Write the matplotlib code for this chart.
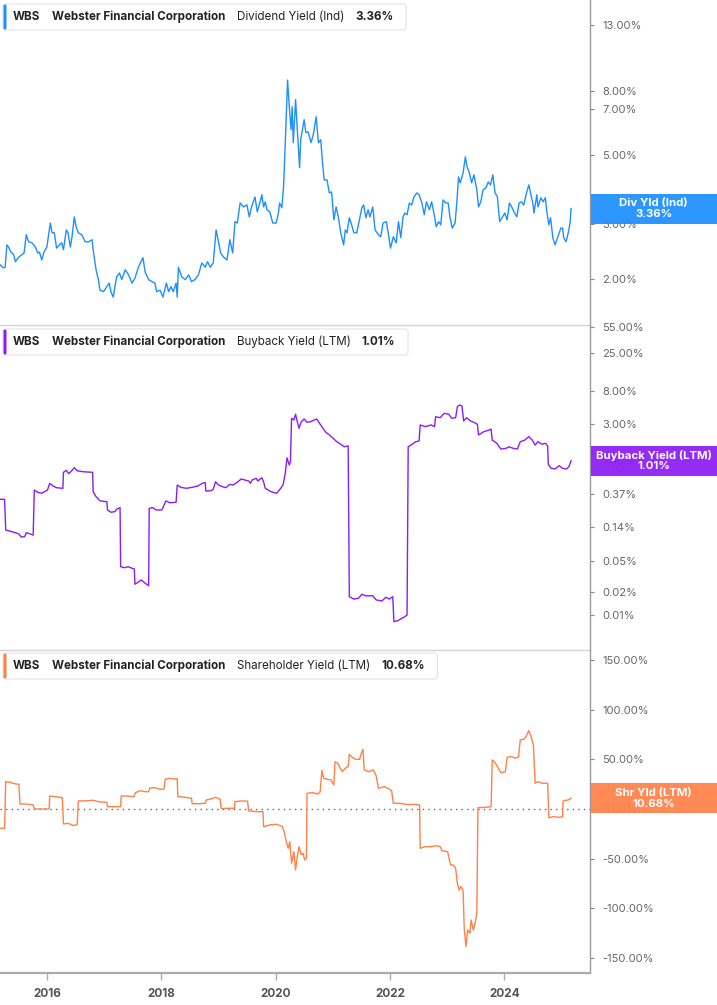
import matplotlib.pyplot as plt
from matplotlib.patches import FancyBboxPatch, Rectangle
from matplotlib.ticker import NullLocator
from matplotlib.transforms import IdentityTransform

plt.rcParams["font.family"] = ["Inter", "DejaVu Sans"]

# ---- data (decimal year, %) ----
div_pts = [
    (2015.18, 2.22), (2015.24, 2.17), (2015.27, 2.18), (2015.30, 2.57), (2015.33, 2.53), (2015.37, 2.44),
    (2015.42, 2.39), (2015.45, 2.27), (2015.50, 2.34), (2015.56, 2.39), (2015.60, 2.42), (2015.64, 2.77),
    (2015.68, 2.63), (2015.74, 2.61), (2015.80, 2.53), (2015.84, 2.42), (2015.87, 2.44), (2015.91, 2.30),
    (2015.95, 2.44), (2016.00, 2.53), (2016.03, 2.77), (2016.06, 3.02), (2016.09, 2.81), (2016.13, 2.81),
    (2016.17, 2.51), (2016.22, 2.57), (2016.26, 2.61), (2016.29, 2.48), (2016.34, 2.87), (2016.37, 2.81),
    (2016.41, 2.53), (2016.44, 2.73), (2016.48, 3.16), (2016.51, 2.94), (2016.55, 2.81), (2016.61, 2.77),
    (2016.67, 2.63), (2016.73, 2.63), (2016.79, 2.67), (2016.81, 2.48), (2016.86, 2.14), (2016.90, 1.99),
    (2016.93, 1.84), (2016.99, 1.82), (2017.05, 1.89), (2017.09, 1.94), (2017.12, 1.82), (2017.16, 1.75),
    (2017.22, 2.03), (2017.27, 2.09), (2017.31, 1.99), (2017.37, 2.14), (2017.43, 2.06), (2017.49, 1.94),
    (2017.54, 2.01), (2017.60, 2.18), (2017.68, 2.34), (2017.72, 2.10), (2017.78, 1.99), (2017.84, 1.96),
    (2017.89, 1.94), (2017.92, 1.82), (2017.98, 1.84), (2018.03, 1.75), (2018.09, 1.94), (2018.13, 1.82),
    (2018.17, 1.89), (2018.21, 1.82), (2018.26, 1.94), (2018.28, 1.75), (2018.30, 2.18), (2018.36, 2.03),
    (2018.42, 1.99), (2018.48, 2.06), (2018.53, 1.96), (2018.59, 1.99), (2018.65, 2.06), (2018.71, 2.25),
    (2018.77, 2.18), (2018.81, 2.27), (2018.86, 2.18), (2018.91, 2.25), (2018.96, 2.87), (2019.00, 2.63),
    (2019.04, 2.42), (2019.09, 2.35), (2019.15, 2.30), (2019.20, 2.67), (2019.25, 2.42), (2019.29, 3.05),
    (2019.33, 3.02), (2019.38, 3.50), (2019.44, 3.40), (2019.50, 3.45), (2019.54, 3.16), (2019.58, 3.40),
    (2019.64, 3.66), (2019.68, 3.28), (2019.73, 3.53), (2019.76, 3.72), (2019.79, 3.40), (2019.82, 3.53),
    (2019.85, 3.33), (2019.90, 3.28), (2019.95, 3.02), (2020.01, 3.02), (2020.05, 3.25), (2020.07, 3.50),
    (2020.11, 3.38), (2020.14, 3.94), (2020.17, 5.46), (2020.21, 8.66), (2020.24, 7.12), (2020.27, 6.01),
    (2020.29, 7.12), (2020.31, 5.46), (2020.35, 7.50), (2020.38, 6.01), (2020.42, 4.54), (2020.44, 5.58),
    (2020.48, 6.14), (2020.50, 6.47), (2020.53, 5.88), (2020.57, 5.91), (2020.62, 5.46), (2020.66, 5.79),
    (2020.71, 6.61), (2020.75, 5.46), (2020.79, 5.58), (2020.82, 4.74), (2020.85, 4.15), (2020.90, 4.15),
    (2020.94, 3.77), (2020.98, 3.80), (2021.02, 3.09), (2021.06, 3.40), (2021.10, 3.14), (2021.14, 2.81),
    (2021.19, 2.57), (2021.22, 2.87), (2021.25, 2.81), (2021.29, 3.14), (2021.33, 2.98), (2021.37, 2.81),
    (2021.42, 2.81), (2021.46, 3.05), (2021.51, 3.38), (2021.54, 3.45), (2021.58, 3.14), (2021.62, 3.33),
    (2021.65, 3.16), (2021.70, 3.40), (2021.74, 2.87), (2021.80, 2.77), (2021.84, 2.73), (2021.88, 3.02),
    (2021.94, 3.05), (2021.97, 2.81), (2022.01, 2.51), (2022.06, 2.73), (2022.11, 2.61), (2022.15, 3.05),
    (2022.19, 2.71), (2022.23, 3.16), (2022.26, 3.25), (2022.30, 3.21), (2022.34, 3.50), (2022.38, 3.45),
    (2022.42, 3.66), (2022.47, 3.77), (2022.51, 3.72), (2022.56, 3.50), (2022.60, 3.21), (2022.64, 3.53),
    (2022.69, 3.33), (2022.73, 3.53), (2022.77, 3.25), (2022.81, 2.94), (2022.85, 3.05), (2022.89, 2.98),
    (2022.93, 3.58), (2022.98, 3.50), (2023.02, 3.50), (2023.05, 3.16), (2023.09, 2.91), (2023.14, 3.02),
    (2023.17, 3.50), (2023.20, 4.24), (2023.23, 4.06), (2023.26, 4.24), (2023.28, 4.37), (2023.32, 4.92),
    (2023.35, 4.57), (2023.39, 4.37), (2023.43, 4.06), (2023.47, 4.31), (2023.52, 3.86), (2023.55, 3.40),
    (2023.59, 3.53), (2023.63, 3.86), (2023.68, 3.91), (2023.72, 4.09), (2023.76, 4.00), (2023.80, 4.31),
    (2023.84, 3.77), (2023.88, 3.66), (2023.92, 3.05), (2023.97, 3.16), (2024.01, 3.25), (2024.05, 3.09),
    (2024.09, 3.50), (2024.13, 3.40), (2024.17, 3.28), (2024.22, 3.16), (2024.26, 3.50), (2024.30, 3.53),
    (2024.34, 3.45), (2024.39, 3.77), (2024.43, 4.00), (2024.46, 3.77), (2024.50, 3.50), (2024.52, 3.25),
    (2024.57, 3.72), (2024.59, 3.40), (2024.64, 3.64), (2024.68, 3.53), (2024.72, 3.64), (2024.74, 3.33),
    (2024.78, 2.98), (2024.81, 3.14), (2024.85, 2.71), (2024.89, 2.57), (2024.92, 2.67), (2024.95, 2.77),
    (2024.99, 2.91), (2025.02, 2.91), (2025.04, 2.71), (2025.08, 2.63), (2025.10, 2.71), (2025.13, 2.87),
    (2025.15, 3.02), (2025.17, 3.36),
]

buy_pts = [
    (2015.18, 0.318), (2015.26, 0.318), (2015.28, 0.127), (2015.35, 0.123), (2015.45, 0.117), (2015.51, 0.113),
    (2015.55, 0.103), (2015.61, 0.104), (2015.64, 0.117), (2015.71, 0.113), (2015.76, 0.109), (2015.78, 0.42),
    (2015.84, 0.392), (2015.91, 0.381), (2016.01, 0.42), (2016.05, 0.513), (2016.10, 0.478), (2016.17, 0.450),
    (2016.28, 0.442), (2016.29, 0.713), (2016.34, 0.757), (2016.38, 0.684), (2016.43, 0.741), (2016.48, 0.819),
    (2016.53, 0.748), (2016.63, 0.726), (2016.80, 0.713), (2016.81, 0.399), (2016.86, 0.344), (2016.93, 0.303),
    (2017.05, 0.296), (2017.06, 0.231), (2017.12, 0.216), (2017.19, 0.220), (2017.22, 0.236), (2017.28, 0.248),
    (2017.29, 0.0424), (2017.36, 0.0411), (2017.42, 0.0424), (2017.49, 0.0404), (2017.53, 0.0396),
    (2017.54, 0.0251), (2017.61, 0.0271), (2017.65, 0.0285), (2017.72, 0.0258), (2017.78, 0.0240),
    (2017.79, 0.243), (2017.85, 0.248), (2017.91, 0.231), (2018.01, 0.231), (2018.05, 0.268), (2018.08, 0.303),
    (2018.15, 0.287), (2018.26, 0.291), (2018.28, 0.488), (2018.34, 0.455), (2018.44, 0.442), (2018.54, 0.455),
    (2018.64, 0.473), (2018.74, 0.523), (2018.77, 0.523), (2018.78, 0.408), (2018.87, 0.411), (2018.91, 0.429),
    (2018.95, 0.538), (2019.00, 0.488), (2019.07, 0.464), (2019.13, 0.450), (2019.20, 0.498), (2019.26, 0.488),
    (2019.33, 0.529), (2019.40, 0.584), (2019.46, 0.567), (2019.53, 0.550), (2019.56, 0.513), (2019.59, 0.567),
    (2019.66, 0.596), (2019.69, 0.550), (2019.76, 0.607), (2019.79, 0.538), (2019.82, 0.442), (2019.92, 0.399),
    (2020.02, 0.381), (2020.09, 0.442), (2020.13, 0.488), (2020.17, 0.692), (2020.20, 1.10), (2020.24, 0.887),
    (2020.26, 0.98), (2020.28, 3.59), (2020.32, 3.41), (2020.35, 4.04), (2020.38, 3.24), (2020.41, 2.66),
    (2020.45, 3.24), (2020.50, 3.51), (2020.55, 3.18), (2020.61, 3.24), (2020.68, 3.41), (2020.72, 3.51),
    (2020.78, 3.00), (2020.83, 2.66), (2020.88, 2.36), (2020.94, 2.18), (2021.01, 1.97), (2021.07, 1.78),
    (2021.14, 1.65), (2021.20, 1.53), (2021.27, 1.57), (2021.29, 0.0173), (2021.37, 0.0161), (2021.45, 0.0165),
    (2021.51, 0.0186), (2021.58, 0.0177), (2021.70, 0.0178), (2021.76, 0.0157), (2021.86, 0.0152),
    (2021.93, 0.0170), (2021.99, 0.0161), (2022.05, 0.0173), (2022.07, 0.0082), (2022.13, 0.0084),
    (2022.19, 0.0089), (2022.26, 0.0095), (2022.30, 0.0100), (2022.32, 1.53), (2022.39, 1.65), (2022.45, 1.78),
    (2022.51, 1.82), (2022.53, 2.94), (2022.62, 2.79), (2022.72, 2.94), (2022.78, 2.79), (2022.80, 3.76),
    (2022.88, 3.65), (2022.95, 4.16), (2023.03, 4.04), (2023.08, 3.59), (2023.15, 3.65), (2023.18, 5.07),
    (2023.22, 5.34), (2023.26, 5.18), (2023.29, 3.31), (2023.34, 3.65), (2023.41, 3.31), (2023.47, 3.18),
    (2023.53, 3.00), (2023.55, 2.18), (2023.64, 2.40), (2023.74, 2.53), (2023.77, 2.60), (2023.79, 1.87),
    (2023.87, 1.70), (2023.94, 1.43), (2024.03, 1.46), (2024.08, 1.53), (2024.16, 1.46), (2024.23, 1.43),
    (2024.28, 1.78), (2024.36, 1.87), (2024.43, 2.07), (2024.49, 1.87), (2024.54, 1.61), (2024.59, 1.78),
    (2024.66, 1.65), (2024.72, 1.70), (2024.76, 1.57), (2024.77, 0.906), (2024.82, 0.804), (2024.89, 0.787),
    (2024.96, 0.869), (2025.02, 0.804), (2025.09, 0.787), (2025.13, 0.844), (2025.17, 1.01),
]

shr_pts = [
    (2015.18, -19.4), (2015.26, -19.4), (2015.28, 27.5), (2015.35, 26.9), (2015.45, 25.2), (2015.51, 24.9),
    (2015.53, 5.0), (2015.64, 5.0), (2015.76, 4.0), (2015.78, 0.0), (2015.91, 0.0), (2016.04, 0.0),
    (2016.05, 13.1), (2016.14, 12.4), (2016.27, 11.4), (2016.29, -15.1), (2016.37, -14.4), (2016.47, -16.8),
    (2016.53, -15.4), (2016.55, 8.1), (2016.66, 8.1), (2016.80, 8.8), (2016.93, 7.0), (2017.05, 6.7),
    (2017.06, 2.3), (2017.16, 2.3), (2017.29, 2.3), (2017.30, 13.1), (2017.39, 13.1), (2017.52, 12.4),
    (2017.55, 16.4), (2017.63, 18.4), (2017.72, 17.4), (2017.78, 17.4), (2017.80, 21.1), (2017.88, 21.5),
    (2017.98, 19.8), (2018.05, 20.1), (2018.07, 29.9), (2018.15, 30.9), (2018.21, 30.2), (2018.28, 30.5),
    (2018.29, 12.4), (2018.41, 11.8), (2018.53, 10.8), (2018.54, 5.3), (2018.67, 5.3), (2018.77, 5.7),
    (2018.79, 9.1), (2018.87, 10.1), (2018.95, 11.8), (2019.03, 9.8), (2019.05, 0.3), (2019.16, 0.7),
    (2019.28, 0.7), (2019.29, 7.4), (2019.40, 8.1), (2019.51, 7.8), (2019.53, -2.0), (2019.66, -2.7),
    (2019.78, -2.7), (2019.79, -17.8), (2019.89, -16.1), (2020.02, -15.4), (2020.12, -17.8), (2020.15, -22.9),
    (2020.18, -31.2), (2020.22, -39.6), (2020.25, -32.9), (2020.28, -54.7), (2020.32, -43.0), (2020.35, -61.4),
    (2020.38, -48.0), (2020.41, -38.0), (2020.45, -46.3), (2020.48, -44.6), (2020.51, -51.4), (2020.54, -49.6),
    (2020.55, 15.8), (2020.65, 16.4), (2020.74, 15.1), (2020.78, 17.4), (2020.81, 38.6), (2020.84, 30.9),
    (2020.91, 29.9), (2020.97, 29.2), (2021.02, 24.2), (2021.04, 47.6), (2021.09, 46.0), (2021.14, 40.0),
    (2021.17, 37.6), (2021.22, 41.0), (2021.27, 42.6), (2021.29, 55.1), (2021.34, 52.1), (2021.40, 50.0),
    (2021.47, 50.0), (2021.50, 56.1), (2021.53, 60.1), (2021.55, 39.3), (2021.63, 37.6), (2021.71, 39.3),
    (2021.76, 33.5), (2021.80, 20.8), (2021.90, 22.5), (2021.97, 20.8), (2022.03, 18.4), (2022.06, 5.7),
    (2022.16, 5.7), (2022.26, 5.0), (2022.32, 4.3), (2022.42, 4.7), (2022.52, 4.0), (2022.53, -39.6),
    (2022.62, -38.0), (2022.72, -38.0), (2022.82, -37.0), (2022.88, -38.0), (2022.91, -42.0), (2023.01, -43.0),
    (2023.06, -56.4), (2023.11, -56.4), (2023.15, -59.7), (2023.18, -74.8), (2023.21, -81.6), (2023.24, -78.2),
    (2023.28, -81.6), (2023.30, -120.1), (2023.33, -138.7), (2023.36, -121.9), (2023.40, -125.2),
    (2023.42, -111.8), (2023.46, -121.9), (2023.49, -115.1), (2023.52, -105.0), (2023.54, 1.3), (2023.67, 1.7),
    (2023.77, 2.3), (2023.79, 49.3), (2023.84, 46.6), (2023.88, 42.6), (2023.94, 36.6), (2024.02, 37.6),
    (2024.05, 52.1), (2024.12, 52.7), (2024.20, 51.1), (2024.25, 52.7), (2024.28, 69.5), (2024.34, 70.2),
    (2024.38, 72.8), (2024.43, 78.9), (2024.47, 72.8), (2024.51, 64.5), (2024.54, 25.9), (2024.59, 27.5),
    (2024.66, 25.9), (2024.76, 25.9), (2024.78, -8.8), (2024.86, -7.8), (2024.96, -8.4), (2025.02, -7.8),
    (2025.03, 8.1), (2025.12, 9.1), (2025.17, 10.68),
]

div_ticks = [2, 3, 5, 7, 8, 13]
buy_ticks = [0.01, 0.02, 0.05, 0.14, 0.37, 1, 3, 8, 25, 55]
shr_ticks = [-150, -100, -50, 0, 50, 100, 150]
year_ticks = [2016, 2018, 2020, 2022, 2024]

panels = [
    dict(pts=div_pts, color="#1e8fff", log=True, ylim=(1.424, 15.63), ticks=div_ticks,
         metric="Dividend Yield (Ind)", value="3.36%", tag="Div Yld (Ind)"),
    dict(pts=buy_pts, color="#8c1cf6", log=True, ylim=(0.00351, 58.4), ticks=buy_ticks,
         metric="Buyback Yield (LTM)", value="1.01%", tag="Buyback Yield (LTM)"),
    dict(pts=shr_pts, color="#ff8148", log=False, ylim=(-165.2, 160.1), ticks=shr_ticks,
         metric="Shareholder Yield (LTM)", value="10.68%", tag="Shr Yld (LTM)"),
]

W, H = 717, 1005
RX = 590  # right edge of the plot area in px
fig = plt.figure(figsize=(W / 100, H / 100), dpi=100)

rows = [(0, 325), (325, 650), (650, 973)]
axes = []
for i, (p, (y0, y1)) in enumerate(zip(panels, rows)):
    ax = fig.add_axes([0, 1 - y1 / H, RX / W, (y1 - y0) / H])
    t, v = zip(*p["pts"])
    ax.plot(t, v, color=p["color"], lw=1.0)
    if p["log"]:
        ax.set_yscale("log")
    ax.set_ylim(*p["ylim"])
    ax.set_xlim(2015.18, 2025.50)
    ax.yaxis.tick_right()
    ax.set_yticks(p["ticks"])
    ax.set_yticklabels([f"{x:.2f}%" for x in p["ticks"]])
    ax.yaxis.set_minor_locator(NullLocator())
    ax.tick_params(axis="y", which="major", length=3, width=0.8, color="#888888",
                   labelsize=8, labelcolor="#666666", pad=6)
    for s in ("left", "top"):
        ax.spines[s].set_visible(False)
    ax.spines["right"].set_color("#999999")
    ax.spines["right"].set_linewidth(1.0)
    ax.set_facecolor("none")
    if i < 2:
        ax.spines["bottom"].set_color("#d2d2d2")
        ax.spines["bottom"].set_linewidth(1.0)
        ax.tick_params(axis="x", bottom=False, labelbottom=False)
    else:
        ax.spines["bottom"].set_color("#aaaaaa")
        ax.spines["bottom"].set_linewidth(1.6)
        ax.set_xticks(year_ticks)
        ax.set_xticklabels([str(y) for y in year_ticks], fontweight="bold")
        ax.tick_params(axis="x", length=5, width=1, color="#aaaaaa", labelsize=8.5,
                       labelcolor="#555555", pad=6)
        ax.axhline(0, color="#666666", lw=1.0, ls=(0, (1, 3)), zorder=1)
    axes.append(ax)

fig.canvas.draw()
r = fig.canvas.get_renderer()

# legend boxes at the top-left of each panel
legend_y = [17, 342, 666]
for p, ly in zip(panels, legend_y):
    parts = [("WBS", "bold"), ("Webster Financial Corporation", "bold"),
             (p["metric"], "normal"), (p["value"], "bold")]
    x = 13
    for k, (s, w) in enumerate(parts):
        txt = fig.text(x / W, 1 - ly / H, s, fontsize=8.35, fontweight=w, color="#222222",
                       va="center", ha="left", zorder=5)
        x = txt.get_window_extent(r).x1 + (12 if k == 0 else 11)
    right = x - 11 + 13
    box = FancyBboxPatch((3, H - ly - 13), right - 3, 26, boxstyle="round,pad=0,rounding_size=3",
                         transform=IdentityTransform(), fc="white", ec="#e3e3e3", lw=0.8, zorder=2)
    fig.add_artist(box)
    bar = FancyBboxPatch((3.5, H - ly - 12.5), 3, 25, boxstyle="round,pad=0,rounding_size=1.5",
                         transform=IdentityTransform(), fc=p["color"], ec="none", zorder=3)
    fig.add_artist(bar)

# value tags at the right edge (they sit over the nearest tick label, as in the original)
for ax, p in zip(axes, panels):
    t, v = zip(*p["pts"])
    yd = ax.transData.transform((t[-1], v[-1]))[1]
    tag = Rectangle((RX + 1, yd - 15), W - RX - 1, 30, transform=IdentityTransform(),
                    fc=p["color"], ec="none", alpha=0.93, zorder=4)
    fig.add_artist(tag)
    fig.text((RX + W) / 2 / W, yd / H, p["tag"] + "\n" + p["value"], ha="center", va="center",
             color="white", fontsize=8.2, fontweight="bold", linespacing=1.05, zorder=6)

fig.savefig("out.png", dpi=100)
